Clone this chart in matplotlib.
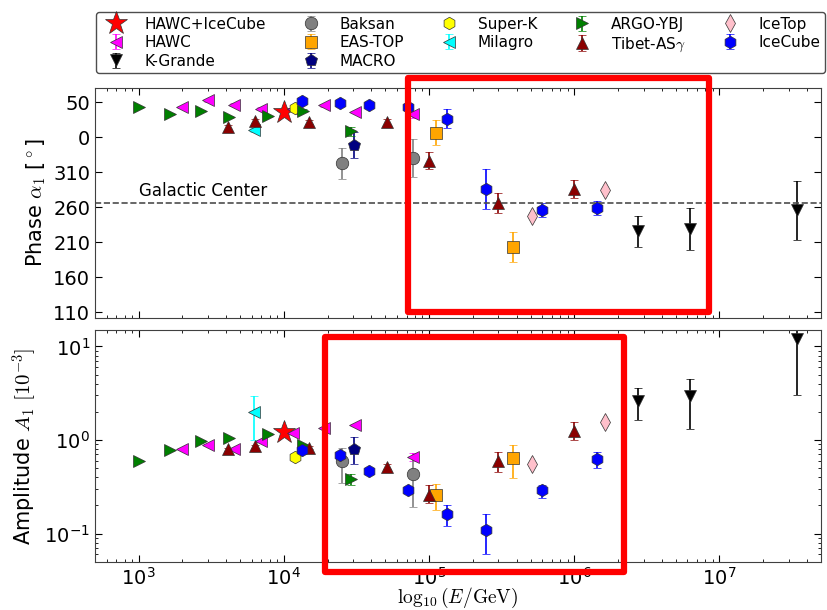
import numpy as np
import matplotlib
matplotlib.use('Agg')
import matplotlib.pyplot as plt
from matplotlib.patches import Rectangle
from matplotlib.ticker import MultipleLocator, FuncFormatter

plt.rcParams['mathtext.fontset'] = 'cm'
plt.rcParams['font.family'] = 'DejaVu Sans'

# energies in GeV, phase in degrees (wrapped to [-180,180]), amplitude in units of 1e-3
hic_E = [1.0e4]
hic_phase = [35.7]
hic_amp = [1.23]

hawc_E = [2.0e3, 3.0e3, 4.5e3, 6.9e3, 1.15e4, 1.9e4, 3.1e4, 7.7e4]
hawc_phase = [42.8, 52.4, 46.2, 40.4, 40.0, 45.2, 35.7, 32.8]
hawc_phase_err = [2, 2, 2, 2, 2, 2, 2, 5]
hawc_amp = [0.80, 0.88, 0.81, 0.98, 1.18, 1.36, 1.45, 0.66]
hawc_amp_err = [0.02, 0.02, 0.02, 0.02, 0.03, 0.03, 0.03, 0.06]

kg_E = [2.76e6, 6.25e6, 3.4e7]
kg_phase = [-134.5, -131.6, -104.4]
kg_phase_err = [22, 30, 42]
kg_amp = [2.62, 2.96, 12.1]
kg_amp_lo = [1.0, 1.66, 9.1]
kg_amp_hi = [0.98, 1.54, 9.0]

baksan_E = [2.5e4, 7.7e4]
baksan_phase = [-37.5, -29.3]
baksan_phase_err = [22, 27]
baksan_amp = [0.60, 0.43]
baksan_amp_lo = [0.25, 0.24]
baksan_amp_hi = [0.23, 0.23]

eas_E = [1.12e5, 3.8e5]
eas_phase = [6.5, -156.5]
eas_phase_err = [18, 21.5]
eas_amp = [0.26, 0.64]
eas_amp_lo = [0.08, 0.25]
eas_amp_hi = [0.08, 0.24]

macro_E = [3.04e4]
macro_phase = [-11.2]
macro_phase_err = [19]
macro_amp = [0.81]
macro_amp_lo = [0.26]
macro_amp_hi = [0.27]

superk_E = [1.2e4]
superk_phase = [41.4]
superk_amp = [0.66]
superk_amp_err = [0.05]

milagro_E = [6.2e3]
milagro_phase = [10.3]
milagro_phase_err = [3]
milagro_amp = [1.98]
milagro_amp_lo = [0.98]
milagro_amp_hi = [0.97]

argo_E = [1.0e3, 1.65e3, 2.7e3, 4.2e3, 7.8e3, 1.35e4, 2.9e4]
argo_phase = [42.4, 32.8, 37.6, 28.5, 29.5, 37.6, 8.0]
argo_phase_err = [1, 1, 1, 1, 1, 2, 7]
argo_amp = [0.60, 0.78, 0.98, 1.04, 1.16, 0.88, 0.38]
argo_amp_err = [0.01, 0.01, 0.01, 0.01, 0.02, 0.02, 0.05]

tibet_E = [4.1e3, 6.3e3, 1.5e4, 5.1e4, 1.0e5, 3.0e5, 1.0e6]
tibet_phase = [13.7, 23.2, 21.3, 21.3, -33.6, -94.0, -74.3]
tibet_phase_err = [3, 3, 3, 4, 12, 14, 13]
tibet_amp = [0.80, 0.86, 0.83, 0.52, 0.26, 0.59, 1.26]
tibet_amp_lo = [0.03, 0.03, 0.03, 0.03, 0.05, 0.13, 0.27]
tibet_amp_hi = [0.03, 0.03, 0.03, 0.03, 0.07, 0.15, 0.31]

icetop_E = [5.1e5, 1.64e6]
icetop_phase = [-112.5, -75.7]
icetop_amp = [0.55, 1.55]

icecube_E = [1.33e4, 2.43e4, 3.84e4, 7.2e4, 1.32e5, 2.46e5, 5.96e5, 1.44e6]
icecube_phase = [51.9, 48.6, 46.2, 42.4, 26.1, -74.3, -103.4, -101.0]
icecube_phase_err = [2, 2, 2, 3, 13.4, 28.7, 10, 10]
icecube_amp = [0.78, 0.69, 0.47, 0.29, 0.16, 0.109, 0.29, 0.62]
icecube_amp_lo = [0.02, 0.02, 0.02, 0.02, 0.04, 0.049, 0.05, 0.12]
icecube_amp_hi = [0.02, 0.02, 0.02, 0.02, 0.04, 0.051, 0.04, 0.12]

gc_ra = 266.4 - 360.

# highlighted energy ranges: (E_min, E_max, y_min, y_max)
box_phase = (7.2e4, 8.5e6, -249.6, 84.7)
box_amp = (1.91e4, 2.2e6, 0.0385, 12.7)

datasets = [
    # label, marker, color, size, E, phase, phase_err, amp, amp_err
    ('HAWC+IceCube', '*', 'red', 17, hic_E, hic_phase, None, hic_amp, None),
    ('HAWC', '<', 'magenta', 9, hawc_E, hawc_phase, hawc_phase_err, hawc_amp, hawc_amp_err),
    ('K-Grande', 'v', 'black', 9, kg_E, kg_phase, kg_phase_err, kg_amp, [kg_amp_lo, kg_amp_hi]),
    ('Baksan', 'o', 'gray', 9, baksan_E, baksan_phase, baksan_phase_err, baksan_amp, [baksan_amp_lo, baksan_amp_hi]),
    ('EAS-TOP', 's', 'orange', 9, eas_E, eas_phase, eas_phase_err, eas_amp, [eas_amp_lo, eas_amp_hi]),
    ('MACRO', 'p', 'navy', 9, macro_E, macro_phase, macro_phase_err, macro_amp, [macro_amp_lo, macro_amp_hi]),
    ('Super-K', 'h', 'yellow', 9, superk_E, superk_phase, None, superk_amp, superk_amp_err),
    ('Milagro', '<', 'cyan', 9, milagro_E, milagro_phase, milagro_phase_err, milagro_amp, [milagro_amp_lo, milagro_amp_hi]),
    ('ARGO-YBJ', '>', 'green', 9, argo_E, argo_phase, argo_phase_err, argo_amp, argo_amp_err),
    ('Tibet-AS$\\gamma$', '^', 'darkred', 9, tibet_E, tibet_phase, tibet_phase_err, tibet_amp, [tibet_amp_lo, tibet_amp_hi]),
    ('IceTop', 'd', 'pink', 9, icetop_E, icetop_phase, None, icetop_amp, None),
    ('IceCube', 'h', 'blue', 9, icecube_E, icecube_phase, icecube_phase_err, icecube_amp, [icecube_amp_lo, icecube_amp_hi]),
]

fig = plt.figure(figsize=(8.27, 6.10), dpi=100)
ax1 = fig.add_axes([0.1149, 0.4787, 0.8778, 0.3770])
ax2 = fig.add_axes([0.1149, 0.0792, 0.8778, 0.3798], sharex=ax1)

handles = []
for label, mk, col, ms, E, ph, ph_err, amp, amp_err in datasets:
    h = ax1.errorbar(E, ph, yerr=ph_err, fmt=mk, color=col, ecolor=col, ms=ms,
                     mec='0.2', mew=0.5, capsize=3, elinewidth=1.2, label=label)
    ax2.errorbar(E, amp, yerr=amp_err, fmt=mk, color=col, ecolor=col, ms=ms,
                 mec='0.2', mew=0.5, capsize=3, elinewidth=1.2)
    handles.append(h)

ax1.axhline(gc_ra, color='0.3', ls='--', lw=1.2)
ax1.text(1e3, gc_ra + 4, 'Galactic Center', fontsize=12, va='bottom', ha='left')

ax1.set_xscale('log')
ax1.set_xlim(500, 5e7)
ax1.set_ylim(-258, 70)
ax1.yaxis.set_major_locator(MultipleLocator(50))
ax1.yaxis.set_major_formatter(FuncFormatter(lambda v, p: '%d' % (v % 360)))
ax1.set_ylabel('Phase $\\alpha_1$ [$^\\circ$]', fontsize=15)
plt.setp(ax1.get_xticklabels(), visible=False)

ax2.set_yscale('log')
ax2.set_ylim(0.05, 15)
ax2.set_ylabel('Amplitude $A_1$ $[10^{-3}]$', fontsize=15)
ax2.set_xlabel('$\\log_{10}(E/\\mathrm{GeV})$', fontsize=14, labelpad=-1.5)

for ax in (ax1, ax2):
    ax.tick_params(which='both', direction='in', top=True, right=True, labelsize=14)
    ax.tick_params(which='major', length=5)
    ax.tick_params(which='minor', length=2.5)
    for s in ax.spines.values():
        s.set_color('0.25')

for ax, (x0, x1, y0, y1) in ((ax1, box_phase), (ax2, box_amp)):
    r = Rectangle((x0, y0), x1 - x0, y1 - y0, fill=False, ec='red', lw=4.5,
                  joinstyle='round', clip_on=False, zorder=10)
    ax.add_patch(r)

fig.legend(handles=handles, loc='upper left', bbox_to_anchor=(0.1125, 0.88, 0.889, 0.105),
           mode='expand', ncol=5, numpoints=1, fontsize=11, fancybox=True, framealpha=1,
           edgecolor='0.3', borderaxespad=0.2, borderpad=0.3, handletextpad=0.9,
           labelspacing=0.22)

fig.savefig('out.png', dpi=100)
